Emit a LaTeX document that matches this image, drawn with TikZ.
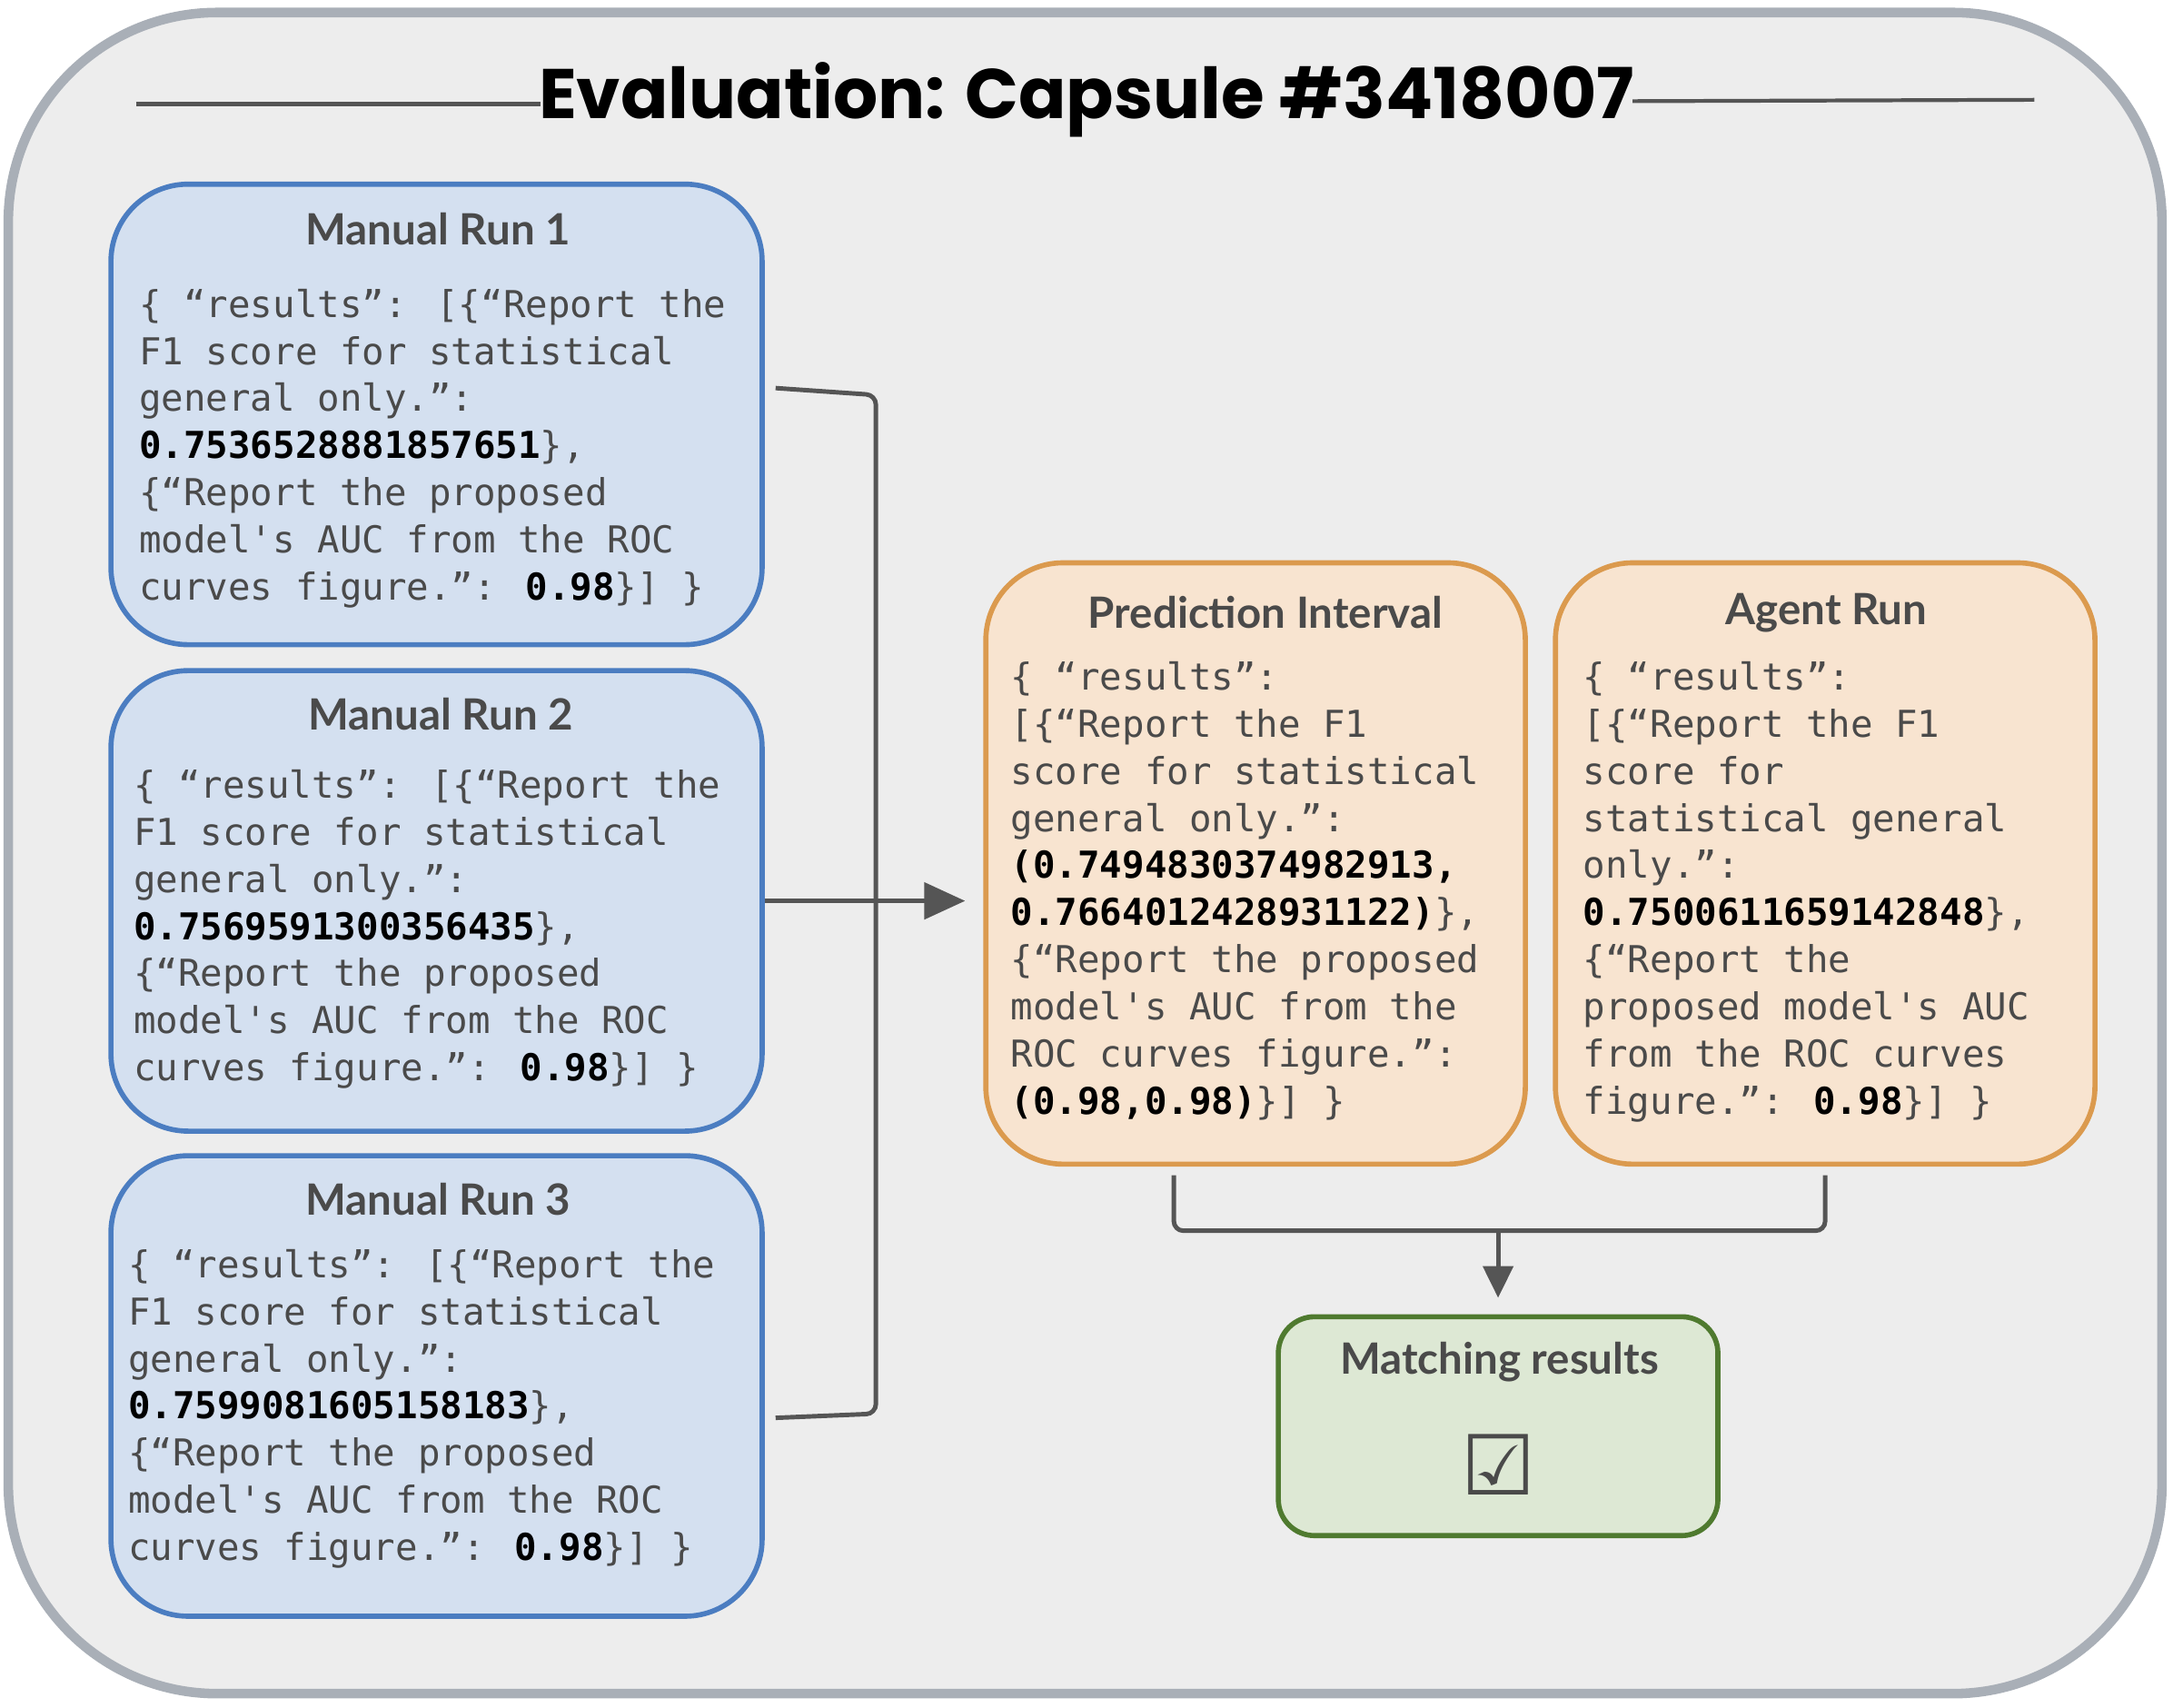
\documentclass[tikz,border=0pt]{standalone}
\usepackage{fontspec}
\setmainfont{Lato}
\newfontfamily\titlefont{Poppins}
\newfontfamily\codefont{DejaVu Sans Mono}
\newfontfamily\symfont{DejaVu Sans}
\usetikzlibrary{positioning,arrows.meta,calc}

\definecolor{outerfill}{HTML}{EDEDED}
\definecolor{outerline}{HTML}{A9AFB7}
\definecolor{bluefill}{HTML}{D4E0F0}
\definecolor{blueline}{HTML}{4B7DC1}
\definecolor{orangefill}{HTML}{F8E4D0}
\definecolor{orangeline}{HTML}{DB9A4E}
\definecolor{greenfill}{HTML}{DDE8D4}
\definecolor{greenline}{HTML}{4F7A2F}
\definecolor{codegray}{HTML}{4A4A4A}
\definecolor{linegray}{HTML}{555555}

\tikzset{
  runbox/.style={draw=blueline, fill=bluefill, line width=1.6pt, rounded corners=0.85cm,
    minimum width=7.17cm, minimum height=5.07cm},
  resbox/.style={draw=orangeline, fill=orangefill, line width=1.6pt, rounded corners=0.85cm,
    minimum width=5.94cm, minimum height=6.62cm},
  header/.style={font=\fontsize{13.5}{16}\selectfont\bfseries, text=codegray},
  code/.style={anchor=north west, inner sep=0pt, align=left, text=codegray,
    font=\codefont\fontsize{11.6}{14.75}\selectfont},
  conn/.style={draw=linegray, line width=1.4pt},
}
\newcommand{\num}[1]{\textcolor{black}{\textbf{#1}}}

\begin{document}
\begin{tikzpicture}[x=0.01526cm, y=-0.01526cm]
    \useasboundingbox (0,0) rectangle (1568,1232);

    % Frame and title
    \draw[draw=outerline, fill=outerfill, line width=3pt, rounded corners=2.3cm] (6,9) rectangle (1560,1222);
    \node[font=\titlefont\fontsize{22}{26}\selectfont\bfseries] (title) at (784,72) {Evaluation: Capsule \#3418007};
    \draw[line width=1.2pt, linegray] (98,75) -- (390,75);
    \draw[line width=1.2pt, linegray] (1178,73) -- (1468,72);

    % Manual runs
    \node[runbox] (mr1) at (315,299) {};
    \node[runbox] (mr2) at (315,650) {};
    \node[runbox] (mr3) at (315,1000) {};
    \node[header] (h1) at (316,165) {Manual Run 1};
    \node[header] (h2) at (318,515) {Manual Run 2};
    \node[header] (h3) at (316,865) {Manual Run 3};
    \node[code] (c1) at (100,208) {\{ “results”: [\{“Report the\\F1 score for statistical\\general only.”:\\\num{0.7536528881857651}\},\\\{“Report the proposed\\model's AUC from the ROC\\curves figure.”: \num{0.98}\}] \}};
    \node[code] (c2) at (96,555) {\{ “results”: [\{“Report the\\F1 score for statistical\\general only.”:\\\num{0.7569591300356435}\},\\\{“Report the proposed\\model's AUC from the ROC\\curves figure.”: \num{0.98}\}] \}};
    \node[code] (c3) at (92,901) {\{ “results”: [\{“Report the\\F1 score for statistical\\general only.”:\\\num{0.7599081605158183}\},\\\{“Report the proposed\\model's AUC from the ROC\\curves figure.”: \num{0.98}\}] \}};

    % Prediction interval and agent run
    \node[resbox] (pi) at (906,623) {};
    \node[resbox] (ar) at (1317,623) {};
    \node[header] (hpi) at (913,442) {Prediction Interval};
    \node[header] (har) at (1318,442) {Agent Run};
    \node[code] (cpi) at (729,477) {\{ “results”:\\\relax[\{“Report the F1\\score for statistical\\general only.”:\\\num{(0.7494830374982913,}\\\num{0.7664012428931122)}\},\\\{“Report the proposed\\model's AUC from the\\ROC curves figure.”:\\\num{(0.98,0.98)}\}] \}};
    \node[code] (car) at (1142,477) {\{ “results”:\\\relax[\{“Report the F1\\score for\\statistical general\\only.”:\\\num{0.7500611659142848}\},\\\{“Report the\\proposed model's AUC\\from the ROC curves\\figure.”: \num{0.98}\}] \}};

    % Matching results
    \node[draw=greenline, fill=greenfill, line width=1.6pt, rounded corners=0.4cm,
      minimum width=4.84cm, minimum height=2.41cm] (match) at (1081,1029) {};
    \node[header] (hm) at (1082,983) {Matching results};
    \node[font=\symfont\fontsize{26}{30}\selectfont, text=codegray] (tick) at (1081,1057) {☑};

    % Connectors
    \coordinate (bar) at (632,650);
    \coordinate (piout) at (847,848);
    \coordinate (arout) at (1317,848);
    \coordinate (join) at (1081,888);
    \draw[conn, rounded corners=3pt] ([xshift=0.12cm]mr1.east |- 0,280) -- (bar |- 0,285) -- (bar |- 0,1020) -- ([xshift=0.12cm]mr3.east |- 0,1023);
    \draw[conn, -{Triangle[length=0.45cm,width=0.4cm]}] (mr2.east) -- ([xshift=-0.2cm]pi.west |- mr2.east);
    \draw[conn, rounded corners=3pt] (piout) -- (piout |- join) -- (arout |- join) -- (arout);
    \draw[conn, -{Triangle[length=0.35cm,width=0.33cm]}] (join) -- ([yshift=0.18cm]match.north);
\end{tikzpicture}
\end{document}
